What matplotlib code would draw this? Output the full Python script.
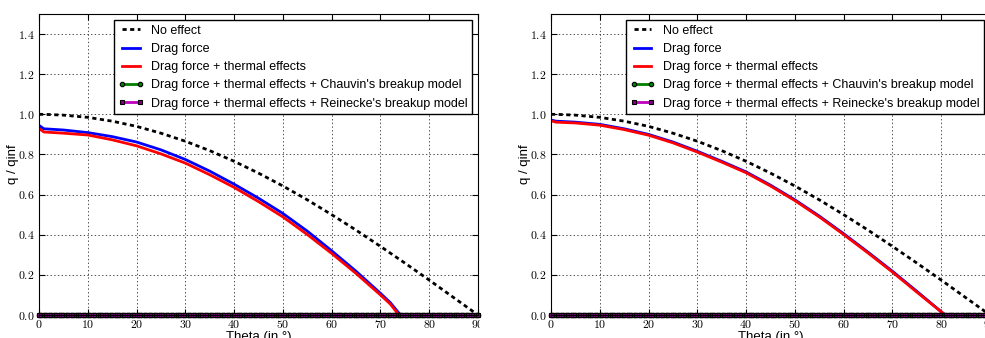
import numpy as np
import matplotlib
matplotlib.use("Agg")
import matplotlib.pyplot as plt
from matplotlib.ticker import FuncFormatter, MultipleLocator
from matplotlib.patches import Rectangle

plt.rcParams['font.family'] = ['Liberation Sans', 'DejaVu Sans']
plt.rcParams['mathtext.fontset'] = 'cm'
plt.rcParams['lines.scale_dashes'] = False

# theta grid (deg) of the read-off points
theta = [0, 1, 5, 10, 15, 20, 25, 30, 35, 40, 45, 50, 55, 60, 65, 70, 75, 80, 85, 90]
no_effect = [1.0, 1.0, 0.996, 0.985, 0.966, 0.94, 0.906, 0.866, 0.819, 0.766,
             0.707, 0.643, 0.574, 0.5, 0.423, 0.342, 0.259, 0.174, 0.087, 0.0]

# left case
theta_l = [0, 1, 5, 10, 15, 20, 25, 30, 35, 40, 45, 50, 55, 60, 65, 70, 72, 74.1]
drag_l = [0.945, 0.928, 0.922, 0.909, 0.889, 0.862, 0.823, 0.775, 0.717, 0.652,
          0.582, 0.506, 0.418, 0.32, 0.218, 0.108, 0.062, 0.0]
theta_lt = [0, 1, 5, 10, 15, 20, 25, 30, 35, 40, 45, 50, 55, 60, 65, 70, 72, 73.8]
thermal_l = [0.93, 0.912, 0.906, 0.897, 0.873, 0.843, 0.803, 0.757, 0.699, 0.636,
             0.565, 0.489, 0.401, 0.307, 0.207, 0.1, 0.055, 0.0]

# right case
theta_r = [0, 1, 5, 10, 15, 20, 25, 30, 35, 40, 45, 50, 55, 60, 65, 70, 75, 80.8]
drag_r = [0.972, 0.966, 0.961, 0.95, 0.928, 0.9, 0.862, 0.816, 0.766, 0.713,
          0.647, 0.574, 0.493, 0.405, 0.313, 0.218, 0.118, 0.0]
thermal_r = [0.968, 0.961, 0.957, 0.946, 0.924, 0.896, 0.858, 0.812, 0.762, 0.709,
             0.643, 0.57, 0.489, 0.401, 0.309, 0.214, 0.114, 0.0]

# breakup models: q stays at zero over the whole range
theta_b = np.arange(0, 90.5, 0.5)
chauvin = [0.0] * len(theta_b)
reinecke = [0.0] * len(theta_b)

cases = [(theta_l, drag_l, theta_lt, thermal_l), (theta_r, drag_r, theta_r, thermal_r)]

fig = plt.figure(figsize=(9.85, 3.38), dpi=100)
W, H = 985.0, 338.0
lefts = [39, 551]

for (tx, dr, tt, th), x0 in zip(cases, lefts):
    ax = fig.add_axes([x0 / W, 23 / H, 439 / W, 301 / H])
    ax.plot(theta, no_effect, color='k', lw=2, dashes=(3, 2.5), label='No effect')
    ax.plot(tx, dr, color='b', lw=2, label='Drag force')
    ax.plot(tt, th, color='r', lw=2, label='Drag force + thermal effects')
    ax.plot(theta_b, chauvin, color='g', lw=2, marker='o', ms=3.2, mfc='g', mec='k', mew=0.8,
            clip_on=False, label="Drag force + thermal effects + Chauvin's breakup model")
    ax.plot(theta_b, reinecke, color='m', lw=2, marker='s', ms=3.2, mfc='purple', mec='k', mew=0.8,
            clip_on=False, label="Drag force + thermal effects + Reinecke's breakup model")
    ax.set_xlim(0, 90)
    ax.set_ylim(0, 1.5)
    ax.xaxis.set_major_locator(MultipleLocator(10))
    ax.yaxis.set_major_locator(MultipleLocator(0.2))
    ax.xaxis.set_major_formatter(FuncFormatter(lambda v, p: '$%d$' % round(v)))
    ax.yaxis.set_major_formatter(FuncFormatter(lambda v, p: '$%.1f$' % v))
    ax.tick_params(direction='in', top=True, right=True, length=4, labelsize=8.5, pad=3)
    ax.grid(True, color='k', ls=':', lw=0.6, alpha=0.8)
    ax.set_xlabel('Theta (in °)', fontsize=9.5, labelpad=0)
    ax.set_ylabel('q / qinf', fontsize=9.5, labelpad=-0.5)
    leg = ax.legend(loc='upper right', fontsize=9, numpoints=2, fancybox=False,
                    framealpha=1, borderaxespad=0.5, handlelength=2.0,
                    handletextpad=0.6, labelspacing=0.5, borderpad=0.35)
    leg.get_frame().set_edgecolor('k')
    leg.get_frame().set_linewidth(1)

# the left panel's last tick label is cut by the image crop
fig.patches.append(Rectangle((480 / W, 0), 30 / W, 19 / H, transform=fig.transFigure,
                             color='white', zorder=10))

fig.savefig('out.png', dpi=100)
